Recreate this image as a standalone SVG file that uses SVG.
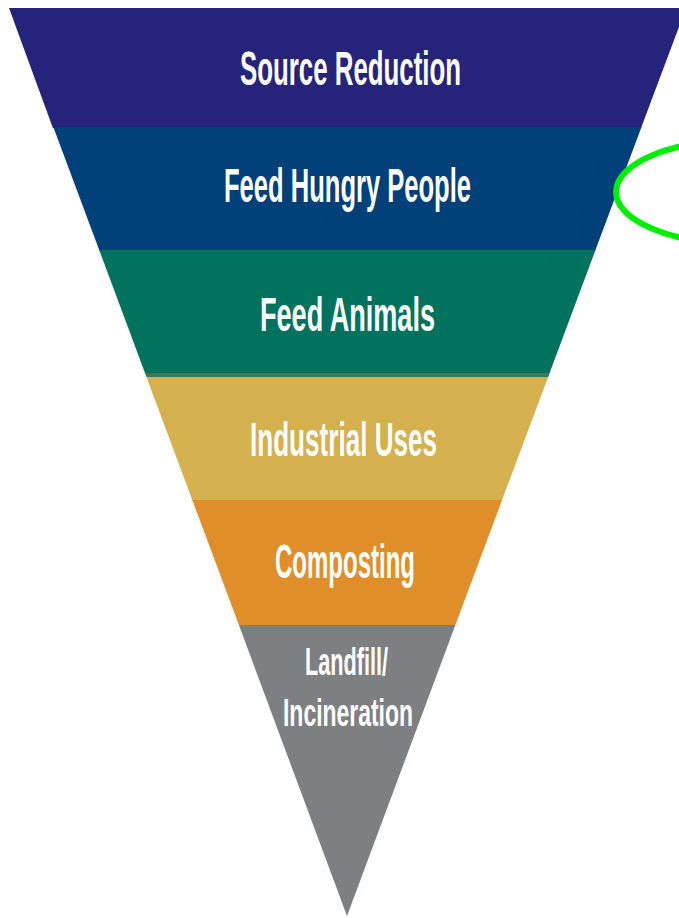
<svg xmlns="http://www.w3.org/2000/svg" width="679" height="918" viewBox="0 0 679 918">
  <defs>
    <style>
      .lbl { font-family: "Liberation Sans", Arial, sans-serif; font-weight: bold; fill: #ffffff; text-anchor: middle; }
    </style>
  </defs>
  <rect width="679" height="918" fill="#ffffff"/>
  <g id="source-reduction">
    <polygon points="9,8 686,8 641.1,128 52.9,128" fill="#26247a"/>
    <text class="lbl" x="350.5" y="85" font-size="48" textLength="221" lengthAdjust="spacingAndGlyphs">Source Reduction</text>
  </g>
  <g id="feed-hungry-people">
    <polygon points="53.3,127 641.5,127 595.1,251 99.6,251" fill="#014078"/>
    <text class="lbl" x="347.5" y="202" font-size="48" textLength="247" lengthAdjust="spacingAndGlyphs">Feed Hungry People</text>
  </g>
  <g id="feed-animals">
    <polygon points="99.2,250 595.5,250 549.6,373 145,373" fill="#00725d"/>
    <polygon points="145,373 549.6,373 548.1,377.5 146.7,377.5" fill="#3b7a58"/>
    <text class="lbl" x="347.5" y="331" font-size="49" textLength="175" lengthAdjust="spacingAndGlyphs">Feed Animals</text>
  </g>
  <g id="industrial-uses">
    <polygon points="146.5,377 548.1,377 501.7,501 192.7,501" fill="#d4b04e"/>
    <text class="lbl" x="343.5" y="456" font-size="48" textLength="187" lengthAdjust="spacingAndGlyphs">Industrial Uses</text>
  </g>
  <g id="composting">
    <polygon points="192.3,500 502.1,500 455,626 239.3,626" fill="#e08e29"/>
    <text class="lbl" x="345" y="578" font-size="48" textLength="140" lengthAdjust="spacingAndGlyphs">Composting</text>
  </g>
  <g id="landfill-incineration">
    <polygon points="238.9,625 455.4,625 347,916" fill="#7e7f83"/>
    <text class="lbl" x="346.5" y="675" font-size="39" textLength="83" lengthAdjust="spacingAndGlyphs">Landfill/</text>
    <text class="lbl" x="348" y="726" font-size="39" textLength="130" lengthAdjust="spacingAndGlyphs">Incineration</text>
  </g>
  <g id="connectors">
    <ellipse id="highlight" cx="740" cy="192" rx="124" ry="52" fill="none" stroke="#00ee00" stroke-width="6"/>
  </g>
</svg>
